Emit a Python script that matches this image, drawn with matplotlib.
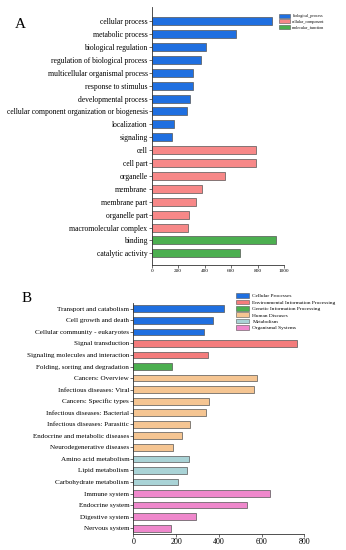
import matplotlib
matplotlib.use("Agg")
import matplotlib.pyplot as plt
from matplotlib.patches import Patch

plt.rcParams["font.family"] = ["Liberation Serif", "DejaVu Serif"]

# panel A: GO terms
go_terms = ["cellular process", "metabolic process", "biological regulation",
            "regulation of biological process", "multicellular organismal process",
            "response to stimulus", "developmental process",
            "cellular component organization or biogenesis", "localization", "signaling",
            "cell", "cell part", "organelle", "membrane", "membrane part",
            "organelle part", "macromolecular complex",
            "binding", "catalytic activity"]
go_counts = [906, 636, 410, 372, 314, 314, 287, 266, 171, 155,
             790, 785, 551, 380, 334, 282, 272,
             941, 664]
go_groups = ["biological_process"] * 10 + ["cellular_component"] * 7 + ["molecular_function"] * 2
go_colors = {"biological_process": "#1f6fe0",
             "cellular_component": "#f78888",
             "molecular_function": "#4caf50"}

# panel B: KEGG pathways
kegg_terms = ["Transport and catabolism", "Cell growth and death",
              "Cellular community - eukaryotes", "Signal transduction",
              "Signaling molecules and interaction", "Folding, sorting and degradation",
              "Cancers: Overview", "Infectious diseases: Viral", "Cancers: Specific types",
              "Infectious diseases: Bacterial", "Infectious diseases: Parasitic",
              "Endocrine and metabolic diseases", "Neurodegenerative diseases",
              "Amino acid metabolism", "Lipid metabolism", "Carbohydrate metabolism",
              "Immune system", "Endocrine system", "Digestive system", "Nervous system"]
kegg_counts = [424, 373, 331, 767, 348, 179, 580, 566, 352, 341, 265, 229, 184,
               260, 253, 207, 638, 532, 292, 175]
kegg_groups = (["Cellular Processes"] * 3 + ["Environmental Information Processing"] * 2
               + ["Genetic Information Processing"] + ["Human Diseases"] * 7
               + ["Metabolism"] * 3 + ["Organismal Systems"] * 4)
kegg_colors = {"Cellular Processes": "#1f6fe0",
               "Environmental Information Processing": "#f47c7c",
               "Genetic Information Processing": "#4caf50",
               "Human Diseases": "#f5c592",
               "Metabolism": "#a9d3d6",
               "Organismal Systems": "#ef88cc"}

W, H = 346, 550
fig = plt.figure(figsize=(W / 100, H / 100), dpi=100)


def px_axes(x0, y0, x1, y1):
    return fig.add_axes([x0 / W, 1 - y1 / H, (x1 - x0) / W, (y1 - y0) / H])


def style(ax):
    ax.spines["top"].set_visible(False)
    ax.spines["right"].set_visible(False)
    for s in ("left", "bottom"):
        ax.spines[s].set_linewidth(0.6)
        ax.spines[s].set_color("#333333")
    ax.tick_params(length=2, width=0.5, color="#333333", pad=1)


# ---- A ----
axA = px_axes(151.7, 7, 284, 265)
yA = range(len(go_terms))
axA.barh(yA, go_counts, height=0.62, color=[go_colors[g] for g in go_groups],
         edgecolor="#555555", linewidth=0.5)
axA.set_yticks(list(yA))
axA.set_yticklabels(go_terms, fontsize=5.5)
axA.set_ylim(len(go_terms) - 1 + 0.9, -1.1)
axA.set_xlim(0, 1000)
axA.set_xticks([0, 200, 400, 600, 800, 1000])
axA.tick_params(axis="x", labelsize=3.8)
style(axA)
axA.legend(handles=[Patch(facecolor=c, edgecolor="#555555", linewidth=0.4, label=k)
                    for k, c in go_colors.items()],
           loc="upper left", bbox_to_anchor=((277 - 151.7) / (284 - 151.7), 1 - 5 / 258),
           fontsize=3.0, frameon=False, handlelength=2.6, handleheight=1.1,
           labelspacing=0.25, borderaxespad=0, handletextpad=0.5)
fig.text(20 / W, 1 - 24 / H, "A", fontsize=11, va="center", ha="center")

# ---- B ----
axB = px_axes(133.3, 303, 304.3, 534)
yB = range(len(kegg_terms))
axB.barh(yB, kegg_counts, height=0.58, color=[kegg_colors[g] for g in kegg_groups],
         edgecolor="#555555", linewidth=0.5)
axB.set_yticks(list(yB))
axB.set_yticklabels(kegg_terms, fontsize=5.1)
axB.set_ylim(len(kegg_terms) - 0.5, -0.5)
axB.set_xlim(0, 800)
axB.set_xticks([0, 200, 400, 600, 800])
axB.tick_params(axis="x", labelsize=5.8)
style(axB)
axB.legend(handles=[Patch(facecolor=c, edgecolor="#555555", linewidth=0.4, label=k)
                    for k, c in kegg_colors.items()],
           loc="upper left", bbox_to_anchor=((234 - 133.3) / 171, 1 + 12 / 231),
           fontsize=3.9, frameon=False, handlelength=2.4, handleheight=0.95,
           labelspacing=0.22, borderaxespad=0, handletextpad=0.6)
fig.text(27 / W, 1 - 298 / H, "B", fontsize=11, va="center", ha="center")

fig.savefig("out.png", dpi=100)
